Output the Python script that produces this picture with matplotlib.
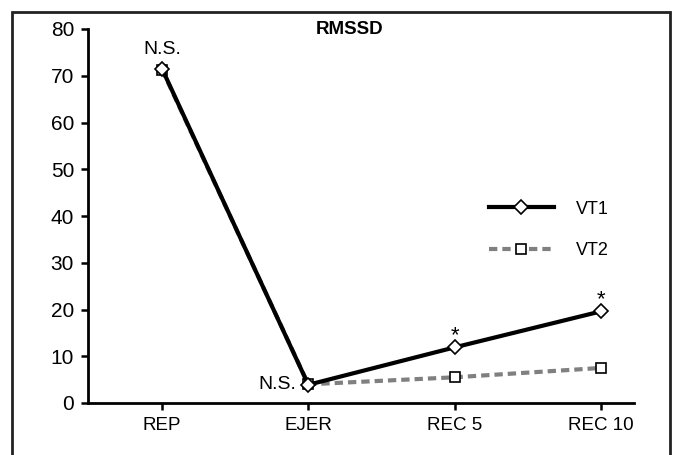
import matplotlib
matplotlib.use("Agg")
import matplotlib.pyplot as plt
import matplotlib.patches as mpatches

plt.rcParams['font.family'] = ['Liberation Sans', 'DejaVu Sans']

categories = ['REP', 'EJER', 'REC 5', 'REC 10']
vt1 = [71.5, 3.9, 11.9, 19.6]
vt2 = [71.3, 4.0, 5.5, 7.5]
labels_vt1 = ['N.S.', 'N.S.', '*', '*']

fig = plt.figure(figsize=(6.78, 4.55), dpi=100)
ax = fig.add_axes([88/678, 1-403/455, (634-88)/678, (403-29)/455])

x = list(range(len(categories)))
ax.plot(x, vt2, color='#808080', lw=3, ls=(0, (2.0, 1.2)), marker='s',
        ms=7.5, mfc='white', mec='black', mew=1.2, label='VT2', zorder=2)
ax.plot(x, vt1, color='black', lw=3, marker='D', ms=7, mfc='white',
        mec='black', mew=1.2, label='VT1', zorder=3)

# significance marks
ax.text(x[0], vt1[0] + 2.3, labels_vt1[0], ha='center', va='bottom', fontsize=14)
ax.text(x[1] - 0.08, vt1[1], labels_vt1[1], ha='right', va='center', fontsize=14)
for i in (2, 3):
    ax.text(x[i], vt1[i] + 0.2, labels_vt1[i], ha='center', va='bottom', fontsize=16,
            fontweight='light')

ax.set_xlim(-0.506, 3.226)
ax.set_ylim(0, 80)
ax.set_yticks(range(0, 81, 10))
ax.set_xticks(x, categories)
ax.tick_params(axis='y', labelsize=15)
ax.tick_params(axis='x', labelsize=13.5)
ax.tick_params(width=1.8, length=5, direction='out', pad=5)
for s in ['top', 'right']:
    ax.spines[s].set_visible(False)
for s in ['left', 'bottom']:
    ax.spines[s].set_linewidth(2)

h, l = ax.get_legend_handles_labels()
ax.legend(h[::-1], l[::-1], loc='center left', bbox_to_anchor=((488-88)/546 - 0.028, 1 - (230-29)/374),
          frameon=False, fontsize=13, handlelength=3.6, labelspacing=1.35, handletextpad=1.2)

fig.text(350/678, 1-30/455, 'RMSSD', ha='center', va='center', fontsize=13.5, fontweight='bold')

frame = mpatches.Rectangle((12/678, -0.02), (670-12)/678, 1.02-12/455, transform=fig.transFigure,
                           fill=False, edgecolor='#222222', lw=2)
fig.patches.append(frame)

fig.savefig('out.png', dpi=100)
